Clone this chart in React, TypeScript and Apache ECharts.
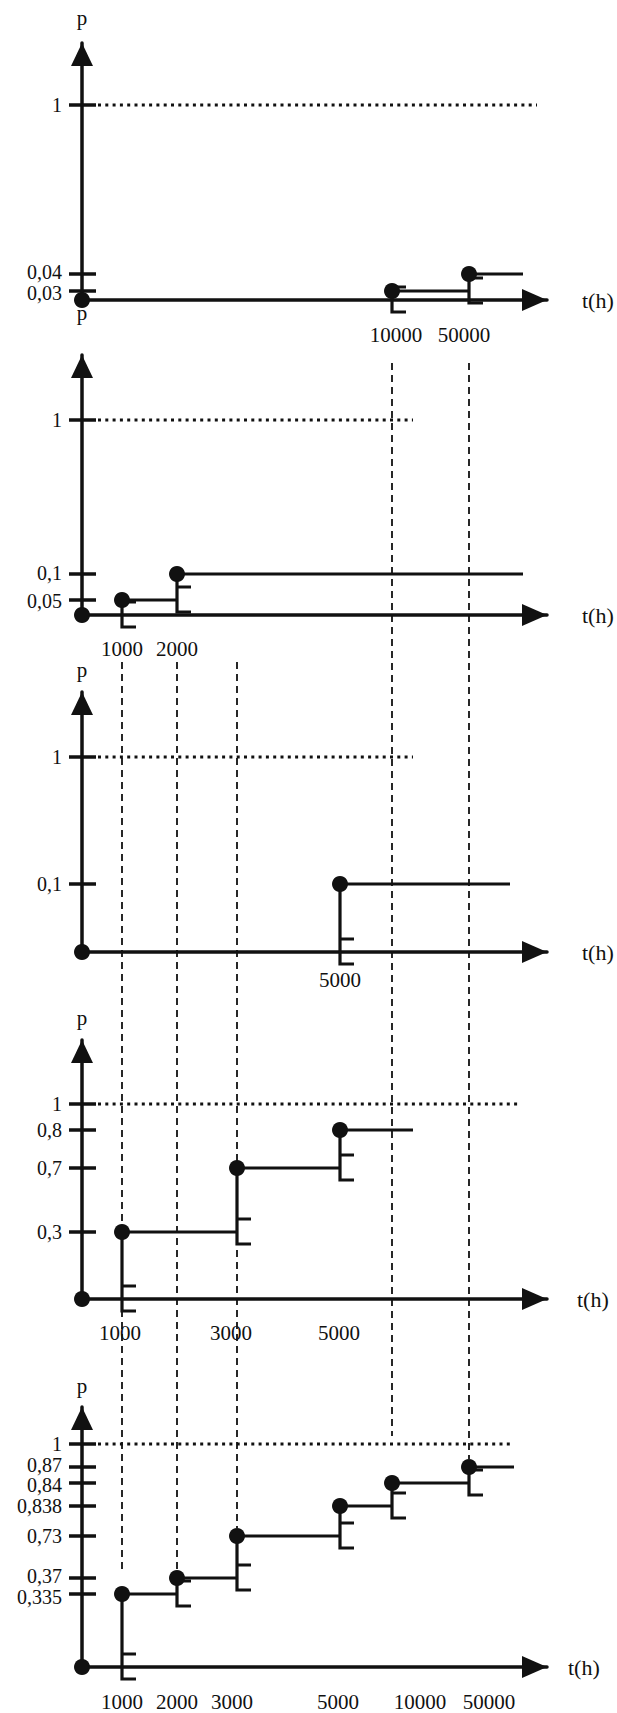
import React, { useEffect, useRef } from 'react';
import * as echarts from 'echarts';

const INK = '#111111';
const SERIF = "'Liberation Serif', 'Times New Roman', serif";

// ---------------- data ----------------
const X_NAME = 't(h)';
const Y_NAME = 'p';

const P1_TIMES = [10000, 50000];
const P1_VALUES = [0.03, 0.04];
const P1_TICKS = [0.03, 0.04, 1];
const P1_TIME_LABELS = [10000, 50000];

const P2_TIMES = [1000, 2000];
const P2_VALUES = [0.05, 0.1];
const P2_TICKS = [0.05, 0.1, 1];
const P2_TIME_LABELS = [1000, 2000];

const P3_TIMES = [5000];
const P3_VALUES = [0.1];
const P3_TICKS = [0.1, 1];
const P3_TIME_LABELS = [5000];

const P4_TIMES = [1000, 3000, 5000];
const P4_VALUES = [0.3, 0.7, 0.8];
const P4_TICKS = [0.3, 0.7, 0.8, 1];
const P4_TIME_LABELS = [1000, 3000, 5000];

const P5_TIMES = [1000, 2000, 3000, 5000, 10000, 50000];
const P5_VALUES = [0.335, 0.37, 0.73, 0.838, 0.84, 0.87];
const P5_TICKS = [0.335, 0.37, 0.73, 0.838, 0.84, 0.87, 1];
const P5_TIME_LABELS = [1000, 2000, 3000, 5000, 10000, 50000];

// vertical dashed guides: time, panel where it starts, level in last panel where it stops
const GUIDE_TIMES = [1000, 2000, 3000, 10000, 50000];
const GUIDE_START_PANEL = [2, 2, 2, 1, 1];
const GUIDE_END_VALUES = [0.37, 0.37, 0.73, 1, 0.87];

const PANEL_DATA = [
  { times: P1_TIMES, values: P1_VALUES, ticks: P1_TICKS, timeLabels: P1_TIME_LABELS },
  { times: P2_TIMES, values: P2_VALUES, ticks: P2_TICKS, timeLabels: P2_TIME_LABELS },
  { times: P3_TIMES, values: P3_VALUES, ticks: P3_TICKS, timeLabels: P3_TIME_LABELS },
  { times: P4_TIMES, values: P4_VALUES, ticks: P4_TICKS, timeLabels: P4_TIME_LABELS },
  { times: P5_TIMES, values: P5_VALUES, ticks: P5_TICKS, timeLabels: P5_TIME_LABELS },
];

// ---------------- layout (schematic, not-to-scale axes) ----------------
const ORIGIN_X = 82;
const X_LENGTH = 465;
// schematic time axis: time -> distance from the origin along the axis
const TIME_SCALE = [
  [0, 0], [1000, 40], [2000, 95], [3000, 155], [5000, 258], [10000, 310], [50000, 387],
];
const REF_START = 16;

const PANEL_LAYOUT = [
  { top: 43, height: 257, yScale: [[0, 0], [0.03, 9], [0.04, 26], [1, 195]], stepEnd: 441, refEnd: 455, pGap: 25, tGap: 35, labelDy: 35, labelDx: { 10000: 4, 50000: -5 } as any, tickDy: { 0.03: 2, 0.04: -2 } as any },
  { top: 355, height: 260, yScale: [[0, 0], [0.05, 15], [0.1, 41], [1, 195]], stepEnd: 441, refEnd: 331, pGap: 42, tGap: 35, labelDy: 34, labelDx: {} as any, tickDy: { 0.05: 1, 0.1: -1 } as any },
  { top: 692, height: 260, yScale: [[0, 0], [0.1, 68], [1, 195]], stepEnd: 428, refEnd: 331, pGap: 22, tGap: 35, labelDy: 28, labelDx: {} as any, tickDy: {} as any },
  { top: 1040, height: 259, yScale: [[0, 0], [0.3, 67], [0.7, 131], [0.8, 169], [1, 195]], stepEnd: 331, refEnd: 436, pGap: 22, tGap: 30, labelDy: 34, labelDx: { 1000: -2, 3000: -6, 5000: -1 } as any, tickDy: {} as any },
  { top: 1407, height: 260, yScale: [[0, 0], [0.335, 73], [0.37, 89], [0.73, 131], [0.838, 161], [0.84, 184], [0.87, 200], [1, 223]], stepEnd: 432, refEnd: 430, pGap: 21, tGap: 21, labelDy: 35, labelDx: { 3000: -5, 5000: -2, 10000: 28, 50000: 20 } as any, tickDy: { 0.87: -2, 0.84: 2, 0.37: -2, 0.335: 3 } as any },
];
const GUIDE_START_OFFSET: any = { 1: 8, 2: -30 };

function piecewise(anchors: number[][]) {
  return (v: number) => {
    let i = 1;
    while (i < anchors.length - 1 && v > anchors[i][0]) i++;
    const [a0, b0] = anchors[i - 1];
    const [a1, b1] = anchors[i];
    return b0 + ((v - a0) / (a1 - a0)) * (b1 - b0);
  };
}
const xs = piecewise(TIME_SCALE);
const fmt = (v: number) => String(v).replace('.', ',');
const TEXT_STYLE = { fill: INK, fontFamily: SERIF, fontSize: 20, lineHeight: 15 };

function buildOption() {
  const grid: any[] = [];
  const xAxis: any[] = [];
  const yAxis: any[] = [];
  const series: any[] = [];

  PANEL_DATA.forEach((d, i) => {
    const L = PANEL_LAYOUT[i];
    const ys = piecewise(L.yScale);
    grid.push({ left: ORIGIN_X, top: L.top, width: X_LENGTH, height: L.height, containLabel: false, outerBoundsMode: 'none' });
    xAxis.push({
      type: 'value', gridIndex: i, min: 0, max: X_LENGTH,
      axisLine: { show: true, onZero: false, lineStyle: { color: INK, width: 3.5 }, symbol: ['none', 'triangle'], symbolSize: [22, 25], symbolOffset: [0, -12.5] },
      axisTick: { show: false }, axisLabel: { show: false }, splitLine: { show: false },
      name: X_NAME, nameLocation: 'end', nameGap: L.tGap,
      nameTextStyle: { fontFamily: SERIF, fontSize: 22, color: INK, verticalAlign: 'middle', align: 'left' },
    });
    yAxis.push({
      type: 'value', gridIndex: i, min: 0, max: L.height,
      axisLine: { show: true, onZero: false, lineStyle: { color: INK, width: 3.5 }, symbol: ['none', 'triangle'], symbolSize: [22, 23], symbolOffset: [0, -11.5] },
      axisTick: { show: false }, axisLabel: { show: false }, splitLine: { show: false },
      name: Y_NAME, nameLocation: 'end', nameGap: L.pGap,
      nameTextStyle: { fontFamily: SERIF, fontSize: 21, color: INK, verticalAlign: 'middle', align: 'center', lineHeight: 15 },
    });

    // dotted reference line at p = 1
    series.push({
      type: 'line', xAxisIndex: i, yAxisIndex: i, silent: true, z: 1,
      data: [[REF_START, ys(1)], [L.refEnd, ys(1)]],
      symbol: 'none', lineStyle: { color: INK, width: 3, type: [3, 4.3] },
    });

    // y ticks + labels
    series.push({
      type: 'custom', xAxisIndex: i, yAxisIndex: i, clip: false, silent: true, z: 3,
      data: d.ticks.map((v) => [0, ys(v), v]),
      encode: { x: 0, y: 1 },
      renderItem: (params: any, api: any) => {
        const pt = api.coord([api.value(0), api.value(1)]);
        const v = api.value(2);
        return {
          type: 'group',
          children: [
            { type: 'line', shape: { x1: pt[0] - 13, y1: pt[1], x2: pt[0] + 14, y2: pt[1] }, style: { stroke: INK, lineWidth: 3.5 } },
            { type: 'text', x: pt[0] - 20, y: pt[1] + (L.tickDy[v] || 0), style: { ...TEXT_STYLE, text: fmt(v), align: 'right', verticalAlign: 'middle' } },
          ],
        };
      },
    });

    // step function with dots and brackets
    const pts = [[0, 0], ...d.times.map((t, k) => [t, d.values[k]])];
    series.push({
      type: 'custom', xAxisIndex: i, yAxisIndex: i, clip: false, silent: true, z: 4,
      data: pts.map((pt, k) => [
        xs(pt[0]), ys(pt[1]),
        k + 1 < pts.length ? xs(pts[k + 1][0]) : L.stepEnd,
        k > 0 ? ys(pts[k - 1][1]) : 0,
        k === 0 ? 1 : 0,
      ]),
      encode: { x: 0, y: 1 },
      renderItem: (params: any, api: any) => {
        const p = api.coord([api.value(0), api.value(1)]);
        const end = api.coord([api.value(2), api.value(1)]);
        const prevY = api.coord([api.value(0), api.value(3)])[1];
        const isOrigin = api.value(4) === 1;
        const children: any[] = [];
        if (!isOrigin) {
          children.push({ type: 'line', shape: { x1: p[0], y1: p[1], x2: end[0], y2: p[1] }, style: { stroke: INK, lineWidth: 3 } });
          children.push({ type: 'line', shape: { x1: p[0], y1: prevY - 13, x2: p[0] + 14, y2: prevY - 13 }, style: { stroke: INK, lineWidth: 3 } });
          children.push({
            type: 'polyline',
            shape: { points: [[p[0], p[1]], [p[0], prevY + 12], [p[0] + 14, prevY + 12]] },
            style: { stroke: INK, lineWidth: 3.2, fill: 'none', lineJoin: 'miter' },
          });
        }
        children.push({ type: 'circle', shape: { cx: p[0], cy: p[1], r: 8 }, style: { fill: INK } });
        return { type: 'group', children };
      },
    });

    // time labels under the axis
    series.push({
      type: 'custom', xAxisIndex: i, yAxisIndex: i, clip: false, silent: true, z: 3,
      data: d.timeLabels.map((t) => [xs(t), 0, t]),
      encode: { x: 0, y: 1 },
      renderItem: (params: any, api: any) => {
        const t = api.value(2);
        const p = api.coord([api.value(0), 0]);
        return {
          type: 'text', x: p[0] + (L.labelDx[t] || 0), y: p[1] + L.labelDy,
          style: { ...TEXT_STYLE, fontSize: 21, text: String(t), align: 'center', verticalAlign: 'middle' },
        };
      },
    });
  });

  return { animation: false, backgroundColor: '#ffffff', grid, xAxis, yAxis, series };
}

function buildGuides(chart: any) {
  const last = PANEL_LAYOUT.length - 1;
  const ysLast = piecewise(PANEL_LAYOUT[last].yScale);
  return GUIDE_TIMES.map((t, k) => {
    const from = GUIDE_START_PANEL[k];
    const x = chart.convertToPixel({ gridIndex: last }, [xs(t), 0])[0];
    const yTop = chart.convertToPixel({ gridIndex: from }, [0, PANEL_LAYOUT[from].height])[1] + GUIDE_START_OFFSET[from];
    const yEnd = chart.convertToPixel({ gridIndex: last }, [0, ysLast(GUIDE_END_VALUES[k])])[1] - 8;
    return {
      type: 'line', z: 0, silent: true,
      shape: { x1: x, y1: yTop, x2: x, y2: yEnd },
      style: { stroke: INK, lineWidth: 1.8, lineDash: [7, 5] },
    };
  });
}

export default function App() {
  const ref = useRef<HTMLDivElement>(null);
  useEffect(() => {
    const chart = echarts.init(ref.current as HTMLDivElement, null, { renderer: 'svg' });
    chart.setOption(buildOption() as any);
    chart.setOption({ graphic: buildGuides(chart) } as any);
    return () => chart.dispose();
  }, []);
  return (
    <div
      ref={ref}
      style={{ position: 'absolute', left: 0, top: 0, width: 617, height: 1713, background: '#ffffff' }}
    />
  );
}
